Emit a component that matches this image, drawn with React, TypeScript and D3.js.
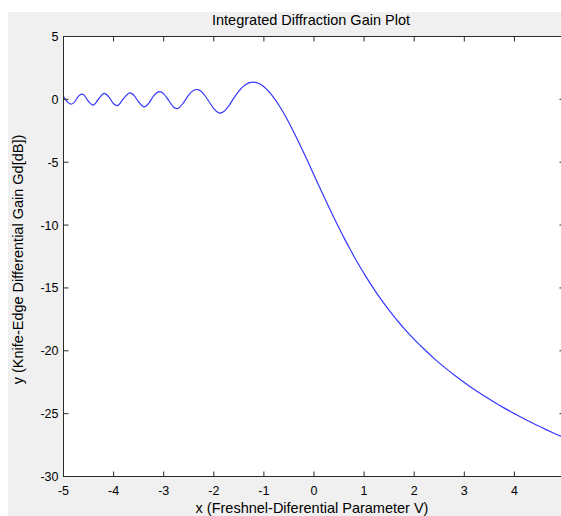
import React from "react";
import * as d3 from "d3";

// Fresnel-Diffraction parameter v (x) and gain Gd in dB (y)
const vValues = [
  -5.0, -4.9, -4.85, -4.8, -4.7, -4.635, -4.6, -4.5, -4.41, -4.3, -4.19, -4.1, -4.0, -3.93,
  -3.8, -3.675, -3.6, -3.5, -3.39, -3.3, -3.2, -3.08, -3.0, -2.9, -2.8, -2.74, -2.7, -2.6,
  -2.5, -2.4, -2.345, -2.3, -2.2, -2.1, -2.0, -1.9, -1.873, -1.8, -1.7, -1.6, -1.5, -1.4,
  -1.3, -1.22, -1.1, -1.0, -0.9, -0.8, -0.7, -0.6, -0.5, -0.4, -0.3, -0.2, -0.1, 0.0,
  0.1, 0.2, 0.3, 0.4, 0.5, 0.6, 0.7, 0.8, 0.9, 1.0, 1.1, 1.2, 1.3, 1.4, 1.5, 1.6, 1.7,
  1.8, 1.9, 2.0, 2.2, 2.4, 2.6, 2.8, 3.0, 3.2, 3.4, 3.6, 3.8, 4.0, 4.2, 4.4, 4.6, 4.8, 5.0,
];
const gainValues = [
  0.22, -0.28, -0.38, -0.3, 0.26, 0.41, 0.36, -0.17, -0.46, 0.03, 0.47, 0.22, -0.35, -0.5,
  0.07, 0.52, 0.35, -0.21, -0.6, -0.32, 0.27, 0.61, 0.44, -0.09, -0.63, -0.73, -0.69, -0.24,
  0.35, 0.73, 0.785, 0.75, 0.42, -0.15, -0.74, -1.07, -1.09, -0.97, -0.51, 0.1, 0.66, 1.07,
  1.31, 1.37, 1.26, 1.0, 0.62, 0.12, -0.47, -1.13, -1.86, -2.64, -3.45, -4.29, -5.15, -6.02,
  -6.89, -7.75, -8.6, -9.43, -10.23, -11.02, -11.77, -12.5, -13.2, -13.86, -14.5, -15.11,
  -15.69, -16.25, -16.78, -17.28, -17.77, -18.23, -18.67, -19.09, -19.88, -20.62, -21.3,
  -21.93, -22.52, -23.08, -23.6, -24.09, -24.56, -25.0, -25.43, -25.83, -26.21, -26.58, -26.94,
];

const xTicks = [-5, -4, -3, -2, -1, 0, 1, 2, 3, 4, 5];
const yTicks = [5, 0, -5, -10, -15, -20, -25, -30];

const titleText = "Integrated Diffraction Gain Plot";
const xLabelText = "x (Freshnel-Diferential Parameter V)";
const yLabelText = "y (Knife-Edge Differential Gain Gd[dB])";

export default function App() {
  const W = 561;
  const H = 516;
  const left = 63.5;
  const right = 564.5;
  const top = 36.5;
  const bottom = 476.5;
  const x = d3.scaleLinear().domain([-5, 5]).range([left, right]);
  const y = d3.scaleLinear().domain([-30, 5]).range([bottom, top]);
  const pts: [number, number][] = vValues.map((v, i) => [v, gainValues[i]]);
  const line = d3
    .line<[number, number]>()
    .x((d) => x(d[0]))
    .y((d) => y(d[1]))
    .curve(d3.curveMonotoneX);
  const font = "'Liberation Sans', Arial, Helvetica, sans-serif";
  const axisColor = "#2a2a2a";
  const tickLen = 5;
  const cx = (left + right) / 2;
  const cy = (top + bottom) / 2;
  const labelSize = 14.5;

  return (
    <svg
      width={W}
      height={H}
      style={{ position: "absolute", left: 0, top: 0, display: "block" }}
      fontFamily={font}
    >
      <rect x={0} y={0} width={W} height={H} fill="#ffffff" />
      <rect x={8} y={12} width={W - 8} height={H - 12} fill="#f0f0f0" />
      <rect x={left} y={top} width={right - left} height={bottom - top} fill="#ffffff" />
      <defs>
        <clipPath id="plotClip">
          <rect x={left} y={top} width={right - left} height={bottom - top} />
        </clipPath>
      </defs>
      <path
        d={line(pts) || ""}
        fill="none"
        stroke="#3636ff"
        strokeWidth={1.2}
        clipPath="url(#plotClip)"
      />
      <rect
        x={left}
        y={top}
        width={right - left}
        height={bottom - top}
        fill="none"
        stroke={axisColor}
        strokeWidth={1}
      />
      {xTicks.map((t) => (
        <g key={"xt" + t}>
          <line x1={x(t)} x2={x(t)} y1={bottom} y2={bottom - tickLen} stroke={axisColor} />
          <line x1={x(t)} x2={x(t)} y1={top} y2={top + tickLen} stroke={axisColor} />
          <text x={x(t)} y={bottom + 18} fontSize={12.5} textAnchor="middle" fill="#000">
            {String(t)}
          </text>
        </g>
      ))}
      {yTicks.map((t) => (
        <g key={"yt" + t}>
          <line x1={left} x2={left + tickLen} y1={y(t)} y2={y(t)} stroke={axisColor} />
          <line x1={right} x2={right - tickLen} y1={y(t)} y2={y(t)} stroke={axisColor} />
          <text x={left - 5} y={y(t) + 4.5} fontSize={12.5} textAnchor="end" fill="#000">
            {String(t)}
          </text>
        </g>
      ))}
      <text x={cx - 3} y={25} fontSize={labelSize} textAnchor="middle" fill="#000">
        {titleText}
      </text>
      <text x={cx - 2} y={513} fontSize={labelSize} textAnchor="middle" fill="#000">
        {xLabelText}
      </text>
      <text
        x={0}
        y={0}
        fontSize={labelSize}
        textAnchor="middle"
        fill="#000"
        transform={`translate(${23},${cy + 3}) rotate(-90)`}
      >
        {yLabelText}
      </text>
    </svg>
  );
}
